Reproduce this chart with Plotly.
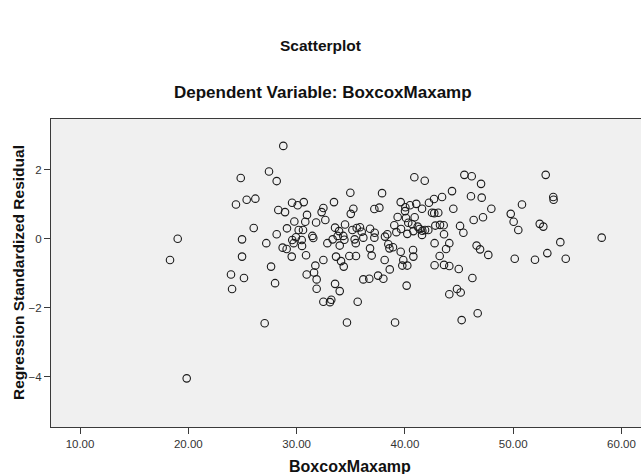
import plotly.graph_objects as go

# BoxcoxMaxamp (x) and Regression Standardized Residual (y)
boxcox_maxamp = [
    19.02, 18.31, 19.85, 28.77, 24.84, 27.45, 28.16, 24.40, 25.39, 26.19,
    29.58, 30.10, 30.66, 28.31, 28.93, 30.96, 29.79, 30.80, 26.04, 29.11,
    30.19, 30.59, 28.16, 24.96, 27.20, 29.60, 29.94, 30.47, 31.45, 31.54,
    29.73, 30.50, 28.71, 29.08, 24.96, 29.55, 30.87, 23.94, 25.14, 24.04,
    27.64, 28.01, 27.05, 31.73, 30.93, 31.61, 31.85, 31.85,
    40.87, 41.83, 45.49, 46.17, 34.96, 37.89, 44.35, 33.45, 39.61, 42.22,
    42.69, 43.43, 46.10, 32.47, 32.31, 35.24, 35.00, 37.18, 37.64, 40.04,
    40.47, 41.05, 41.58, 40.01, 42.50, 42.71, 43.08, 44.47, 31.80, 32.65,
    39.33, 40.10, 40.90, 46.35, 34.47, 33.55, 33.92, 35.15, 35.55, 35.85,
    36.78, 36.01, 37.21, 39.02, 39.64, 40.31, 40.66, 41.18, 39.21, 40.22,
    40.78, 41.36, 41.61, 41.86, 42.16, 41.58, 42.81, 43.24, 43.58, 45.09,
    45.40, 43.61, 32.84, 33.33, 33.79, 34.31, 34.41, 33.98, 35.36, 35.46,
    36.16, 37.18, 38.16, 38.38, 38.47, 38.57, 38.90, 36.78, 36.93, 42.74,
    43.80, 44.10, 46.62, 40.75, 39.61, 32.47, 33.64, 34.87, 35.48, 40.78,
    43.21, 34.10, 34.35, 38.13, 38.60, 39.85, 39.76, 40.22, 42.74, 43.61,
    44.10, 44.97, 46.23, 33.55, 33.98, 36.16, 36.71, 37.52, 38.01, 40.16,
    32.47, 33.08, 33.20, 35.64, 34.65, 39.09, 44.10, 44.81, 45.15, 45.24,
    46.72,
    47.03, 47.09, 47.98, 53.00, 53.70, 53.73, 50.81, 49.77, 50.04, 50.47,
    52.45, 52.78, 58.17, 54.35, 47.21, 46.94, 47.70, 50.14, 52.01, 53.15,
    54.85,
]
std_residual = [
    0.00, -0.62, -4.05, 2.69, 1.76, 1.95, 1.67, 0.99, 1.13, 1.16,
    1.04, 0.97, 1.06, 0.83, 0.77, 0.69, 0.50, 0.49, 0.31, 0.30,
    0.25, 0.25, 0.13, -0.02, -0.13, -0.04, 0.04, -0.04, 0.08, 0.02,
    -0.13, -0.21, -0.26, -0.30, -0.52, -0.52, -0.48, -1.04, -1.14, -1.46,
    -0.81, -1.29, -2.45, -0.78, -1.04, -0.98, -1.18, -1.45,
    1.78, 1.68, 1.85, 1.81, 1.33, 1.32, 1.38, 1.06, 1.06, 1.04,
    1.15, 1.21, 1.23, 0.89, 0.77, 0.87, 0.72, 0.86, 0.90, 0.91,
    0.97, 1.01, 0.87, 0.80, 0.75, 0.74, 0.75, 0.87, 0.47, 0.54,
    0.63, 0.60, 0.62, 0.54, 0.41, 0.32, 0.22, 0.25, 0.31, 0.33,
    0.29, 0.20, 0.17, 0.39, 0.28, 0.46, 0.42, 0.35, 0.19, 0.14,
    0.22, 0.28, 0.23, 0.25, 0.25, 0.11, 0.38, 0.40, 0.39, 0.37,
    0.17, 0.13, -0.13, -0.02, 0.08, 0.08, -0.03, -0.20, -0.02, -0.13,
    0.03, 0.03, 0.06, 0.13, -0.16, -0.28, -0.25, -0.28, -0.49, -0.13,
    -0.30, -0.13, -0.20, -0.33, -0.38, -0.62, -0.52, -0.50, -0.50, -0.52,
    -0.50, -0.65, -0.81, -0.62, -0.89, -0.62, -0.78, -0.78, -0.77, -0.76,
    -0.79, -0.88, -1.14, -1.31, -1.52, -1.18, -1.16, -1.07, -1.16, -1.36,
    -1.83, -1.84, -1.77, -1.83, -2.43, -2.43, -1.61, -1.46, -1.56, -2.36,
    -2.16,
    1.59, 1.19, 0.87, 1.85, 1.21, 1.13, 0.99, 0.72, 0.49, 0.25,
    0.43, 0.35, 0.03, -0.10, 0.62, -0.31, -0.47, -0.58, -0.61, -0.42,
    -0.58,
]

x_tick_vals = [10, 20, 30, 40, 50, 60]
y_tick_vals = [-4, -2, 0, 2]

FONT = "Liberation Sans, Arial, sans-serif"
AXIS_COLOR = "#3a3a3a"

fig = go.Figure()
fig.add_trace(go.Scatter(
    x=boxcox_maxamp, y=std_residual, mode="markers",
    marker=dict(symbol="circle-open", size=7.5, color="#1a1a1a",
                line=dict(width=1.1, color="#1a1a1a")),
    hoverinfo="skip", showlegend=False,
))

fig.update_layout(
    width=641, height=474,
    margin=dict(l=51, r=0, t=119, b=47),
    paper_bgcolor="white", plot_bgcolor="#f0f0f0",
    font=dict(family=FONT, color="#222222"),
    xaxis=dict(range=[7.32, 61.80], tickvals=x_tick_vals, tickformat=".2f",
               showgrid=False, zeroline=False, showline=True, linecolor=AXIS_COLOR,
               linewidth=1.3, mirror=True, ticks="outside", ticklen=6, tickwidth=1.3,
               tickcolor=AXIS_COLOR, tickfont=dict(size=11.5, color="#333333")),
    yaxis=dict(range=[-5.46, 3.47], tickvals=y_tick_vals,
               showgrid=False, zeroline=False, showline=True, linecolor=AXIS_COLOR,
               linewidth=1.3, ticks="outside", ticklen=6, tickwidth=1.3,
               tickcolor=AXIS_COLOR, tickfont=dict(size=11.5, color="#333333")),
    annotations=[
        dict(text="<b>Scatterplot</b>", xref="paper", yref="paper",
             x=(320.5 - 51) / 590, y=1 + (119 - 45) / 308, xanchor="center", yanchor="middle",
             showarrow=False, font=dict(size=15.5, color="#111111", family=FONT)),
        dict(text="<b>Dependent Variable: BoxcoxMaxamp</b>", xref="paper", yref="paper",
             x=(323 - 51) / 590, y=1 + (119 - 92) / 308, xanchor="center", yanchor="middle",
             showarrow=False, font=dict(size=17, color="#111111", family=FONT)),
        dict(text="<b>BoxcoxMaxamp</b>", xref="paper", yref="paper",
             x=(350 - 51) / 590, y=(427 - 466) / 308, xanchor="center", yanchor="middle",
             showarrow=False, font=dict(size=16, color="#111111", family=FONT)),
        dict(text="<b>Regression Standardized Residual</b>", xref="paper", yref="paper",
             x=(18 - 51) / 590, y=0.5, xanchor="center", yanchor="middle", textangle=-90,
             showarrow=False, font=dict(size=15.5, color="#111111", family=FONT)),
    ],
)

fig.write_html("out.html")
